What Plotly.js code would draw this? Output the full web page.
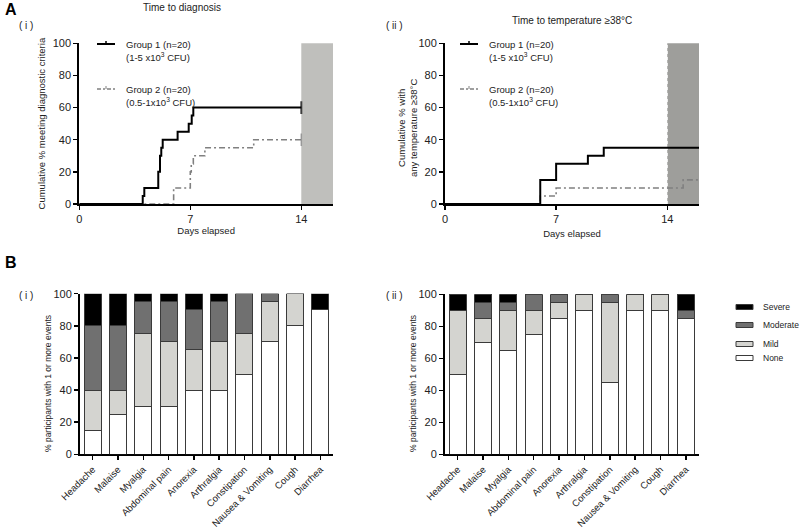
<!DOCTYPE html>
<html>
<head>
<meta charset="utf-8">
<script src="https://cdn.plot.ly/plotly-3.0.1.min.js"></script>
<style>html,body{margin:0;padding:0;background:#fff;}#chart{width:800px;height:529px;}</style>
</head>
<body>
<div id="chart"></div>
<script>
// ---------- Data: panel A(i) time to diagnosis ----------
const diagG1Days = [0, 4.0, 4.1, 4.98, 5.09, 5.17, 5.26, 6.2, 6.9, 7.09, 7.19, 14];
const diagG1Pct  = [0, 5, 10, 20, 30, 35, 40, 45, 50, 55, 60, 60];
const diagG2Days = [0, 5.95, 7.0, 7.06, 7.19, 7.92, 11.0, 14];
const diagG2Pct  = [0, 10, 20, 25, 30, 35, 40, 40];
// ---------- Data: panel A(ii) time to temperature >=38C ----------
const tempG1Days = [0, 6, 7, 9, 10, 16];
const tempG1Pct  = [0, 15, 25, 30, 35, 35];
const tempG2Days = [0, 6, 7, 15, 16];
const tempG2Pct  = [0, 5, 10, 15, 15];
const followUpWindow = [14, 16];
const groupNames = ["Group 1 (n=20)", "Group 2 (n=20)"];
const groupDoses = ["(1-5 x10<sup>3</sup> CFU)", "(0.5-1x10<sup>3</sup> CFU)"];
const daysTicks = [0, 7, 14];
const pctTicks = [0, 20, 40, 60, 80, 100];
// ---------- Data: panel B symptoms ----------
const symptoms = ["Headache", "Malaise", "Myalgia", "Abdominal pain", "Anorexia", "Arthralgia",
                  "Constipation", "Nausea & Vomiting", "Cough", "Diarrhea"];
const severityLevels = ["None", "Mild", "Moderate", "Severe"];
const g1None     = [15, 25, 30, 30, 40, 40, 50, 70, 80, 90];
const g1Mild     = [25, 15, 45, 40, 25, 30, 25, 25, 20, 0];
const g1Moderate = [40, 40, 20, 25, 25, 25, 25, 5, 0, 0];
const g1Severe   = [20, 20, 5, 5, 10, 5, 0, 0, 0, 10];
const g2None     = [50, 70, 65, 75, 85, 90, 45, 90, 90, 85];
const g2Mild     = [40, 15, 25, 15, 10, 10, 50, 10, 10, 0];
const g2Moderate = [0, 10, 5, 10, 5, 0, 5, 0, 0, 5];
const g2Severe   = [10, 5, 5, 0, 0, 0, 0, 0, 0, 10];

// ---------- Styles ----------
const FONT = "Liberation Sans, Arial, Helvetica, sans-serif";
const sevColors = {None: "#ffffff", Mild: "#d4d4d0", Moderate: "#707070", Severe: "#000000"};
const g1Line = {color: "#000000", width: 2, shape: "hv"};
const g2Line = {color: "#808080", width: 1.6, shape: "hv", dash: "6px,3px,2px,3px"};
const W = 800, H = 529;
const px = v => v / W;
const py = v => 1 - v / H;

function censorSizes(n){ const s = new Array(n).fill(0); s[n-1] = 9; return s; }

const traces = [];
// A(i)
traces.push({x: diagG2Days, y: diagG2Pct, xaxis: "x", yaxis: "y", mode: "lines+markers", line: g2Line,
  marker: {symbol: "line-ns-open", size: censorSizes(diagG2Days.length), line: {color: "#808080", width: 1.5}},
  showlegend: false, hoverinfo: "x+y"});
traces.push({x: diagG1Days, y: diagG1Pct, xaxis: "x", yaxis: "y", mode: "lines+markers", line: g1Line,
  marker: {symbol: "line-ns-open", size: censorSizes(diagG1Days.length), line: {color: "#000", width: 2}},
  showlegend: false, hoverinfo: "x+y"});
// A(ii)
traces.push({x: tempG2Days, y: tempG2Pct, xaxis: "x2", yaxis: "y2", mode: "lines", line: g2Line,
  showlegend: false, hoverinfo: "x+y"});
traces.push({x: tempG1Days, y: tempG1Pct, xaxis: "x2", yaxis: "y2", mode: "lines", line: g1Line,
  showlegend: false, hoverinfo: "x+y"});
// B
const g1Series = [g1None, g1Mild, g1Moderate, g1Severe];
const g2Series = [g2None, g2Mild, g2Moderate, g2Severe];
severityLevels.forEach((lvl, i) => {
  traces.push({type: "bar", x: symptoms, y: g1Series[i], xaxis: "x3", yaxis: "y3", name: lvl,
    width: 0.67, marker: {color: sevColors[lvl], line: {color: "#3a3a3a", width: 1}}, showlegend: false});
  traces.push({type: "bar", x: symptoms, y: g2Series[i], xaxis: "x4", yaxis: "y4", name: lvl,
    width: 0.67, marker: {color: sevColors[lvl], line: {color: "#3a3a3a", width: 1}}, showlegend: false});
});

const axisBase = {
  showgrid: false, zeroline: false, showline: true, linecolor: "#000", linewidth: 2,
  ticks: "outside", ticklen: 4, tickwidth: 1.5, tickcolor: "#000",
  tickfont: {family: FONT, size: 11, color: "#222"}, fixedrange: true, layer: "below traces"
};
const titleFont = {family: FONT, size: 9.5, color: "#222"};
const catTickFont = {family: FONT, size: 9.5, color: "#222"};

const yDomA = [py(204), py(43.3)];
const yDomB1 = [py(454.3), py(293.7)];
const yDomB2 = [py(454.3), py(294.3)];

const layout = {
  width: W, height: H, margin: {l: 0, r: 0, t: 0, b: 0},
  paper_bgcolor: "#fff", plot_bgcolor: "rgba(0,0,0,0)",
  font: {family: FONT, color: "#222"},
  showlegend: false, barmode: "stack", bargap: 0.33,
  xaxis: Object.assign({}, axisBase, {domain: [px(79.3), px(333)], range: [0, 16], tickvals: daysTicks,
    anchor: "y", title: {text: "Days elapsed", font: titleFont, standoff: 0}}),
  yaxis: Object.assign({}, axisBase, {domain: yDomA, range: [0, 100], tickvals: pctTicks, anchor: "x",
    title: {text: "Cumulative % meeting diagnostic criteria", font: titleFont, standoff: 5}}),
  xaxis2: Object.assign({}, axisBase, {domain: [px(445), px(699)], range: [0, 16], tickvals: daysTicks,
    anchor: "y2", title: {text: "Days elapsed", font: titleFont, standoff: 6}}),
  yaxis2: Object.assign({}, axisBase, {domain: yDomA, range: [0, 100], tickvals: pctTicks, anchor: "x2"}),
  xaxis3: Object.assign({}, axisBase, {domain: [px(80), px(333)], range: [-0.5, 9.5], type: "category",
    anchor: "y3", tickangle: -45, ticklen: 4, tickfont: catTickFont}),
  yaxis3: Object.assign({}, axisBase, {domain: yDomB1, range: [0, 100], tickvals: pctTicks, anchor: "x3"}),
  xaxis4: Object.assign({}, axisBase, {domain: [px(445), px(698.5)], range: [-0.5, 9.5], type: "category",
    anchor: "y4", tickangle: -45, ticklen: 4, tickfont: catTickFont}),
  yaxis4: Object.assign({}, axisBase, {domain: yDomB2, range: [0, 100], tickvals: pctTicks, anchor: "x4"}),
  shapes: [],
  annotations: []
};

// follow-up shaded windows
layout.shapes.push({type: "rect", xref: "x", yref: "y domain", x0: followUpWindow[0], x1: followUpWindow[1],
  y0: 0, y1: 1, fillcolor: "#bfbfbc", line: {width: 0}, layer: "below"});
layout.shapes.push({type: "rect", xref: "x2", yref: "y2 domain", x0: followUpWindow[0], x1: followUpWindow[1],
  y0: 0, y1: 1, fillcolor: "#9e9e9b", line: {width: 0}, layer: "below"});
layout.shapes.push({type: "line", xref: "x2", yref: "y2 domain", x0: followUpWindow[0], x1: followUpWindow[0],
  y0: 0, y1: 1, line: {color: "#ffffff", width: 1, dash: "dot"}, layer: "below"});

const ann = (text, x, y, opts) => Object.assign({text, x: px(x), y: py(y), xref: "paper", yref: "paper",
  showarrow: false, xanchor: "center", yanchor: "middle",
  font: {family: FONT, size: 10, color: "#222"}}, opts || {});

// Panel labels and titles
layout.annotations.push(ann("<b>A</b>", 3, 10, {xanchor: "left", font: {family: FONT, size: 16, color: "#000"}}));
layout.annotations.push(ann("<b>B</b>", 3, 262, {xanchor: "left", font: {family: FONT, size: 16, color: "#000"}}));
layout.annotations.push(ann("( i )", 17, 25, {xanchor: "left"}));
layout.annotations.push(ann("( ii )", 384, 25, {xanchor: "left"}));
layout.annotations.push(ann("( i )", 17, 295, {xanchor: "left"}));
layout.annotations.push(ann("( ii )", 384, 295, {xanchor: "left"}));
layout.annotations.push(ann("Time to diagnosis", 182, 7));
layout.annotations.push(ann("Time to temperature ≥38°C", 572, 20));
// y-axis titles placed as rotated text
layout.annotations.push(ann("Cumulative % with<br>any temperature ≥38°C", 408, 128, {textangle: -90,
  font: {family: FONT, size: 9.5, color: "#222"}}));
layout.annotations.push(ann("% participants with 1 or more events", 48, 384, {textangle: -90,
  font: {family: FONT, size: 8.5, color: "#222"}}));
layout.annotations.push(ann("% participants with 1 or more events", 413, 384, {textangle: -90,
  font: {family: FONT, size: 8.5, color: "#222"}}));

// Custom legends for panel A
function addLineLegend(x0, yRow, isG1, idx){
  const style = isG1 ? {color: "#000", width: 2} : {color: "#808080", width: 1.6, dash: "4px,2px,2px,2px"};
  layout.shapes.push({type: "line", xref: "paper", yref: "paper", x0: px(x0), x1: px(x0 + 18), y0: py(yRow), y1: py(yRow), line: style});
  layout.shapes.push({type: "line", xref: "paper", yref: "paper", x0: px(x0 + 9), x1: px(x0 + 9), y0: py(yRow), y1: py(yRow - 3),
    line: {color: style.color, width: isG1 ? 1.5 : 1}});
  layout.annotations.push(ann(groupNames[idx], x0 + 27, yRow, {xanchor: "left", font: {family: FONT, size: 9.5, color: "#222"}}));
  layout.annotations.push(ann(groupDoses[idx], x0 + 27, yRow + 13, {xanchor: "left", font: {family: FONT, size: 9.5, color: "#222"}}));
}
addLineLegend(97, 44, true, 0);
addLineLegend(97, 89, false, 1);
addLineLegend(460, 44, true, 0);
addLineLegend(460, 89, false, 1);

// Custom legend for panel B
const legRows = [["Severe", 307], ["Moderate", 325], ["Mild", 344], ["None", 358]];
legRows.forEach(([lvl, y]) => {
  layout.shapes.push({type: "rect", xref: "paper", yref: "paper", x0: px(736), x1: px(753), y0: py(y + 2.5), y1: py(y - 2.5),
    fillcolor: sevColors[lvl], line: {color: "#3a3a3a", width: 1}});
  layout.annotations.push(ann(lvl, 761, y, {xanchor: "left", font: {family: FONT, size: 8.5, color: "#222"}}));
});

Plotly.newPlot("chart", traces, layout, {staticPlot: true, displayModeBar: false});
</script>
</body>
</html>
